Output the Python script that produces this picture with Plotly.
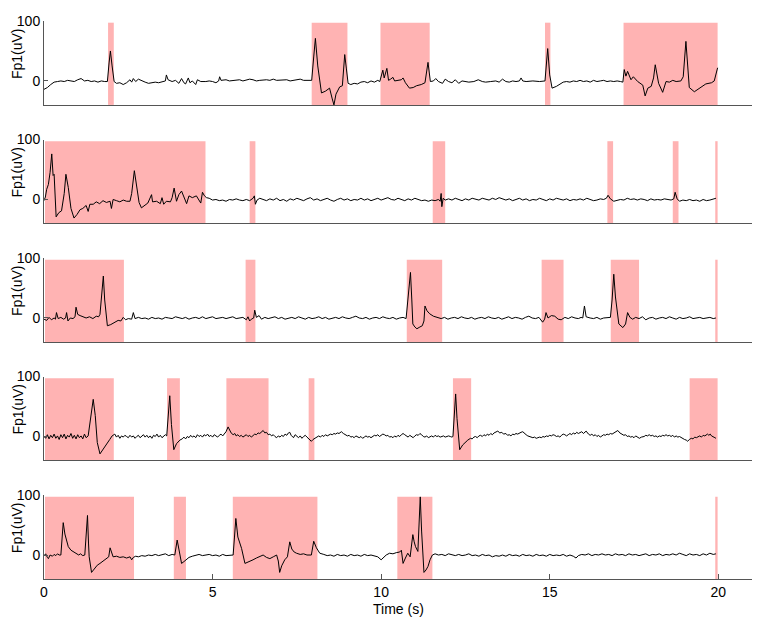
import plotly.graph_objects as go
from plotly.subplots import make_subplots

# ---------------- data ----------------
# EEG channel Fp1 (uV) over time (s), one trace per panel, as (t, value) pairs
TRACE_1 = [
    (0, -14), (0.1, -11), (0.2, -6), (0.3, -2), (0.4, -1), (0.5, 0), (0.6, -1), (0.7, 1),
    (0.8, 0), (0.9, -1), (1.0, 2), (1.1, 4), (1.2, 0), (1.3, 1), (1.4, -1), (1.5, 0),
    (1.6, -2), (1.7, 0), (1.8, -1), (1.88, -1), (1.93, 30), (1.97, 50), (2.02, 25),
    (2.08, -1), (2.15, -4), (2.25, -3), (2.35, -6), (2.45, -3), (2.55, 2), (2.6, -2),
    (2.65, 4), (2.72, -1), (2.8, 3), (2.9, 0), (3.0, -2), (3.1, -4), (3.2, -3), (3.3, -2),
    (3.4, -3), (3.5, -1), (3.6, 0), (3.63, 10), (3.68, 2), (3.8, -1), (3.9, 1), (4.0, -4),
    (4.08, 4), (4.15, -3), (4.2, -5), (4.28, 5), (4.33, -3), (4.4, 0), (4.5, -6), (4.55, 2),
    (4.65, -1), (4.8, -1), (4.9, 0), (5.0, -1), (5.1, -3), (5.18, 0), (5.21, 7), (5.25, 1),
    (5.4, 2), (5.5, 0), (5.6, 1), (5.7, 2), (5.8, 2), (5.9, 0), (6.0, 1), (6.1, 3), (6.2, 2),
    (6.3, 0), (6.4, 1), (6.5, 2), (6.6, 2), (6.7, 1), (6.8, 3), (6.9, 1), (7.0, 1), (7.1, 2),
    (7.2, 2), (7.3, 0), (7.4, 1), (7.5, 2), (7.6, 3), (7.7, 1), (7.8, 1), (7.94, 1),
    (8.0, 40), (8.05, 71), (8.12, 25), (8.23, -20), (8.35, -17), (8.47, -12), (8.55, -30),
    (8.6, -40), (8.66, -22), (8.77, -10), (8.85, -8), (8.92, 44), (8.97, 20), (9.02, -4),
    (9.1, -6), (9.2, -4), (9.3, -5), (9.4, -2), (9.5, -1), (9.6, -3), (9.7, 0), (9.8, -2),
    (9.9, 1), (9.96, -1), (10.05, 18), (10.09, 5), (10.17, 21), (10.22, 1), (10.28, 3),
    (10.35, 6), (10.4, 0), (10.5, 1), (10.6, 2), (10.65, 5), (10.72, -3), (10.84, -12),
    (10.95, -11), (11.05, -8), (11.19, -6), (11.3, -3), (11.39, 31), (11.46, -1),
    (11.55, 0), (11.62, 4), (11.7, -1), (11.82, -4), (11.9, 3), (12.0, -1), (12.1, -3),
    (12.2, 2), (12.3, -4), (12.4, 0), (12.5, -1), (12.6, -2), (12.75, -1), (12.88, 2),
    (13.0, -1), (13.1, -2), (13.25, -1), (13.4, 0), (13.5, -2), (13.6, 3), (13.7, -1),
    (13.8, -2), (13.9, 0), (14.0, -1), (14.1, 0), (14.15, 5), (14.2, 0), (14.3, -1),
    (14.5, 0), (14.7, -1), (14.86, 0), (14.9, 30), (14.94, 54), (15.0, 10), (15.07, -12),
    (15.2, -9), (15.34, -4), (15.4, -2), (15.5, -1), (15.6, -2), (15.7, 0), (15.8, -1),
    (15.9, 1), (16.0, -1), (16.1, 0), (16.2, -2), (16.3, 1), (16.4, -1), (16.5, 0),
    (16.6, 1), (16.7, -1), (16.8, 0), (16.9, -1), (17.0, 0), (17.1, -1), (17.17, -2),
    (17.21, 19), (17.26, 8), (17.31, 16), (17.41, 2), (17.48, 7), (17.61, -1), (17.76, -7),
    (17.83, -25), (17.91, -12), (18.01, -9), (18.08, 5), (18.13, 27), (18.23, -4),
    (18.35, -19), (18.45, -1), (18.55, -2), (18.65, 1), (18.75, -1), (18.89, 0), (18.96, 7),
    (19.04, 66), (19.09, 20), (19.14, -11), (19.29, -18), (19.45, -12), (19.63, -5),
    (19.8, -3), (19.88, 0), (19.98, 22),
]

TRACE_2 = [
    (0, -2), (0.04, 4), (0.08, 17), (0.13, 25), (0.18, 45), (0.23, 76), (0.27, 40), (0.3, 42),
    (0.36, -29), (0.44, -22), (0.52, -19), (0.6, 10), (0.65, 42), (0.72, 20), (0.8, -15),
    (0.89, -31), (0.98, -25), (1.07, -17), (1.15, -15), (1.25, -10), (1.31, -20), (1.36, -8),
    (1.46, -8), (1.55, -4), (1.65, -7), (1.75, -2), (1.85, -5), (1.96, -3), (2.0, -15),
    (2.05, 0), (2.15, -2), (2.25, -4), (2.35, -1), (2.45, -3), (2.55, -3), (2.6, 10),
    (2.68, 48), (2.75, 25), (2.82, -5), (2.89, -14), (2.98, -10), (3.08, -6), (3.19, 8),
    (3.22, -4), (3.34, -3), (3.45, -7), (3.5, 3), (3.55, -8), (3.63, -3), (3.75, -4),
    (3.8, 3), (3.86, 19), (3.93, -3), (4.0, 8), (4.08, 14), (4.15, 4), (4.23, -7), (4.3, 6),
    (4.4, 3), (4.52, 6), (4.6, -3), (4.65, -6), (4.7, 12), (4.76, 6), (4.82, 3), (4.9, 2),
    (5.0, -1), (5.1, 0), (5.2, -2), (5.3, -1), (5.4, -3), (5.5, 0), (5.6, -1), (5.7, 1),
    (5.8, -1), (5.9, -2), (6.0, 0), (6.1, -2), (6.2, 2), (6.24, 6), (6.27, -8), (6.32, -1),
    (6.4, 2), (6.5, 0), (6.6, -2), (6.7, 1), (6.8, -1), (6.9, 2), (7.0, -2), (7.1, 0),
    (7.2, -3), (7.3, 1), (7.4, -1), (7.5, 2), (7.6, 0), (7.7, -2), (7.8, 1), (7.9, 3),
    (8.0, -1), (8.1, 1), (8.2, -2), (8.3, 0), (8.4, 2), (8.5, -1), (8.6, -3), (8.7, 0),
    (8.8, 2), (8.9, -1), (9.0, 1), (9.1, -2), (9.2, 0), (9.3, -1), (9.4, 2), (9.5, -1),
    (9.6, 1), (9.7, -2), (9.8, 0), (9.9, 2), (10.0, -1), (10.1, 1), (10.2, 3), (10.3, 0),
    (10.4, -1), (10.5, 2), (10.6, 0), (10.7, -2), (10.8, 1), (10.9, -1), (11.0, 2),
    (11.1, 0), (11.2, -2), (11.3, -1), (11.4, -3), (11.5, -1), (11.6, -2), (11.7, 0),
    (11.75, -3), (11.78, 10), (11.8, -12), (11.84, 2), (11.9, -1), (12.0, 1), (12.1, -1),
    (12.2, 2), (12.3, 0), (12.4, -2), (12.5, 1), (12.6, -1), (12.7, 2), (12.8, 0),
    (12.9, -1), (13.0, 2), (13.1, 1), (13.2, -1), (13.3, 2), (13.4, 0), (13.5, 3), (13.6, 1),
    (13.7, -1), (13.8, 1), (13.9, -2), (14.0, 0), (14.1, 2), (14.2, -1), (14.3, 1),
    (14.4, -2), (14.5, 0), (14.6, -1), (14.7, 2), (14.8, 0), (14.9, -2), (15.0, 1),
    (15.1, -1), (15.2, 2), (15.3, 0), (15.4, -1), (15.5, 1), (15.6, -2), (15.7, 0),
    (15.8, -1), (15.9, 1), (16.0, -1), (16.1, 2), (16.2, 0), (16.3, -2), (16.4, -1),
    (16.5, 1), (16.6, 0), (16.68, 2), (16.73, 7), (16.8, 1), (16.9, -3), (17.0, -2),
    (17.1, 0), (17.2, -1), (17.3, 2), (17.4, 0), (17.5, 1), (17.6, -1), (17.7, 1), (17.8, 0),
    (17.9, -2), (18.0, 1), (18.1, -1), (18.2, 0), (18.3, -1), (18.4, 1), (18.5, 0),
    (18.6, -1), (18.68, 1), (18.72, 12), (18.78, 1), (18.85, -3), (18.95, -1), (19.05, -2),
    (19.15, 0), (19.25, -2), (19.35, -1), (19.45, -3), (19.55, 0), (19.65, -2), (19.75, -1),
    (19.85, 0), (19.93, 2),
]

TRACE_3 = [
    (0, -2), (0.08, -4), (0.15, 1), (0.22, -3), (0.3, 0), (0.34, -2), (0.37, 9), (0.42, -1),
    (0.5, 1), (0.58, -2), (0.64, 0), (0.67, 9), (0.71, -5), (0.78, 0), (0.86, -1), (0.92, 2),
    (0.95, 18), (1.0, 6), (1.07, 4), (1.15, 2), (1.25, 0), (1.35, 2), (1.45, -1), (1.55, 3),
    (1.62, 2), (1.66, 6), (1.7, 30), (1.76, 70), (1.8, 30), (1.88, -13), (1.98, -11),
    (2.1, -7), (2.2, -4), (2.28, -5), (2.35, 1), (2.42, -3), (2.5, -1), (2.6, -2), (2.65, 9),
    (2.7, -1), (2.8, 1), (2.9, -1), (3.0, 0), (3.1, -2), (3.2, 1), (3.3, -1), (3.4, 0),
    (3.5, -2), (3.6, 1), (3.7, 0), (3.8, -1), (3.9, 2), (4.0, 0), (4.1, -1), (4.2, 1),
    (4.3, -2), (4.4, 0), (4.5, 1), (4.6, -1), (4.7, 2), (4.8, -1), (4.9, 0), (5.0, 2),
    (5.1, -1), (5.2, 0), (5.3, 1), (5.4, -1), (5.5, 0), (5.6, 2), (5.7, -1), (5.8, 0),
    (5.9, 1), (6.0, -3), (6.05, 2), (6.1, -5), (6.15, -2), (6.22, 0), (6.25, 13), (6.3, 1),
    (6.38, 4), (6.45, -2), (6.55, 1), (6.65, -1), (6.75, 0), (6.85, 2), (6.95, -1),
    (7.05, 1), (7.15, -2), (7.25, 0), (7.35, 1), (7.45, -1), (7.55, 2), (7.65, 0),
    (7.75, -2), (7.85, 1), (7.95, -1), (8.05, 0), (8.15, 2), (8.25, -1), (8.35, 1),
    (8.45, -2), (8.55, 0), (8.65, 1), (8.75, -1), (8.85, 2), (8.95, 0), (9.05, -1),
    (9.15, 1), (9.25, 3), (9.35, 0), (9.45, -1), (9.55, 1), (9.65, -2), (9.75, 0),
    (9.85, 1), (9.95, -1), (10.05, 2), (10.15, 0), (10.25, -1), (10.35, 1), (10.45, -2),
    (10.55, 0), (10.65, 1), (10.74, -1), (10.8, 30), (10.87, 76), (10.91, 30), (10.94, -10),
    (11.0, -15), (11.06, -18), (11.15, -15), (11.22, -13), (11.27, -5), (11.3, 20),
    (11.36, 12), (11.44, 7), (11.55, 3), (11.68, 1), (11.78, -1), (11.88, 1), (11.98, -2),
    (12.08, 0), (12.18, 1), (12.28, -1), (12.38, 2), (12.48, 0), (12.58, -1), (12.68, 1),
    (12.78, -2), (12.88, 0), (12.98, 1), (13.08, -1), (13.18, 2), (13.28, 0), (13.38, -1),
    (13.48, 1), (13.58, -2), (13.68, 0), (13.78, 2), (13.88, -1), (13.98, 1), (14.08, 0),
    (14.18, -2), (14.28, 1), (14.38, 3), (14.48, 0), (14.58, -1), (14.68, 1), (14.79, -7),
    (14.85, -2), (14.89, 9), (14.95, 0), (15.05, 4), (15.15, 3), (15.25, -2), (15.34, -3),
    (15.45, 1), (15.55, -1), (15.65, 2), (15.75, 0), (15.85, -1), (15.93, 1), (15.98, 0),
    (16.03, 20), (16.08, 2), (16.2, 0), (16.3, -1), (16.4, 1), (16.5, -2), (16.6, 0),
    (16.7, 1), (16.8, 1), (16.85, 30), (16.9, 73), (16.95, 35), (17.05, -10), (17.17, -16),
    (17.25, -10), (17.31, 9), (17.38, 1), (17.46, -2), (17.55, 1), (17.65, -1), (17.75, 2),
    (17.85, -3), (17.95, 0), (18.05, 1), (18.15, -2), (18.25, 0), (18.35, 1), (18.45, -1),
    (18.55, 2), (18.65, 0), (18.75, -2), (18.85, 1), (18.95, -1), (19.05, 0), (19.15, 2),
    (19.25, -1), (19.35, 0), (19.45, 1), (19.55, -1), (19.65, 0), (19.75, 1), (19.85, -1),
    (19.93, 0),
]

TRACE_4 = [
    (0, 0), (0.05, -3), (0.1, 3), (0.15, -4), (0.2, 2), (0.25, -2), (0.3, 4), (0.35, -3),
    (0.4, 1), (0.45, -5), (0.5, 3), (0.55, -2), (0.6, 4), (0.65, -4), (0.7, 2), (0.75, -1),
    (0.8, 5), (0.85, -3), (0.9, 2), (0.95, -4), (1.0, 3), (1.05, -2), (1.1, 1), (1.15, -4),
    (1.2, 4), (1.25, -2), (1.31, 1), (1.37, 25), (1.46, 62), (1.52, 35), (1.58, -10),
    (1.66, -29), (1.75, -22), (1.86, -14), (1.95, -5), (2.02, 1), (2.1, 4), (2.15, -1),
    (2.2, 2), (2.25, -3), (2.3, 1), (2.35, -1), (2.4, 2), (2.45, 0), (2.5, -2), (2.55, 2),
    (2.6, -1), (2.65, 1), (2.7, -3), (2.75, 0), (2.8, 2), (2.85, -2), (2.9, 1), (2.95, 3),
    (3.0, -1), (3.05, 2), (3.1, -2), (3.15, 1), (3.2, -3), (3.25, 2), (3.3, 0), (3.35, 4),
    (3.4, -1), (3.45, 2), (3.5, -2), (3.55, 1), (3.6, 3), (3.64, 1), (3.68, 30), (3.73, 68),
    (3.78, 20), (3.85, -22), (3.93, -12), (4.03, -6), (4.1, -4), (4.15, -1), (4.2, -4),
    (4.25, 0), (4.3, -2), (4.35, 2), (4.4, -1), (4.45, 1), (4.5, -2), (4.55, 3), (4.6, 0),
    (4.65, 2), (4.7, -1), (4.75, 3), (4.8, 1), (4.85, 4), (4.9, 0), (4.95, 2), (5.0, -1),
    (5.05, 3), (5.1, 1), (5.15, -1), (5.2, 2), (5.25, 4), (5.3, 1), (5.35, 5), (5.4, 8),
    (5.46, 16), (5.5, 10), (5.55, 6), (5.61, 3), (5.66, 5), (5.7, 1), (5.75, 3), (5.8, 0),
    (5.85, 2), (5.9, -1), (5.95, 1), (6.0, 3), (6.05, 0), (6.1, 2), (6.15, -1), (6.2, 1),
    (6.25, 4), (6.3, 3), (6.35, 6), (6.4, 5), (6.45, 8), (6.5, 10), (6.55, 6), (6.6, 7),
    (6.65, 3), (6.7, 4), (6.75, 1), (6.8, 3), (6.85, 0), (6.9, -2), (6.95, 1), (7.0, -1),
    (7.05, 2), (7.1, 0), (7.15, 4), (7.2, 2), (7.25, 6), (7.29, 7), (7.33, 2), (7.4, -2),
    (7.45, 3), (7.5, 0), (7.55, -2), (7.6, 1), (7.65, -3), (7.7, 0), (7.75, 2), (7.8, -1),
    (7.85, -4), (7.9, -6), (7.93, -8), (7.98, -5), (8.03, -3), (8.08, -1), (8.15, 1),
    (8.2, -1), (8.25, 2), (8.3, 0), (8.35, 3), (8.4, 1), (8.45, 2), (8.5, 4), (8.55, 3),
    (8.6, 5), (8.65, 4), (8.7, 6), (8.75, 5), (8.82, 8), (8.88, 5), (8.95, 3), (9.0, 1),
    (9.05, 2), (9.1, -1), (9.15, 0), (9.2, -2), (9.25, 1), (9.3, -1), (9.35, -2), (9.4, 0),
    (9.45, -3), (9.5, -1), (9.55, 1), (9.6, -1), (9.65, 0), (9.7, -2), (9.75, 0), (9.8, 2),
    (9.85, 1), (9.9, 3), (9.95, 0), (10.0, 2), (10.05, 4), (10.1, 3), (10.15, 1), (10.2, 2),
    (10.25, -1), (10.3, 0), (10.35, -2), (10.4, 1), (10.45, -1), (10.5, 2), (10.55, 0),
    (10.6, 3), (10.65, 5), (10.7, 3), (10.75, 1), (10.8, -1), (10.85, 2), (10.9, 0),
    (10.95, -2), (11.0, 1), (11.05, 3), (11.1, 2), (11.15, 5), (11.2, 3), (11.25, 0),
    (11.3, -1), (11.35, 1), (11.4, -2), (11.45, 0), (11.5, 1), (11.55, -1), (11.6, 2),
    (11.65, 0), (11.7, 1), (11.75, -1), (11.8, 0), (11.85, 1), (11.9, -1), (11.95, 0),
    (12.0, 1), (12.05, 0), (12.1, -1), (12.13, 0), (12.17, 35), (12.21, 71), (12.25, 30),
    (12.33, -22), (12.42, -14), (12.5, -9), (12.57, -6), (12.65, -3), (12.7, -4),
    (12.75, -1), (12.8, 0), (12.85, -2), (12.9, 1), (12.95, 2), (13.0, 0), (13.05, 3),
    (13.1, 1), (13.15, 4), (13.2, 2), (13.25, 5), (13.3, 3), (13.35, 6), (13.4, 7),
    (13.46, 9), (13.52, 6), (13.58, 7), (13.63, 4), (13.7, 5), (13.75, 2), (13.8, 3),
    (13.85, 1), (13.9, 4), (13.95, 3), (14.0, 5), (14.05, 4), (14.1, 6), (14.15, 7),
    (14.2, 8), (14.25, 5), (14.3, 3), (14.35, 1), (14.4, 0), (14.45, -1), (14.5, -2),
    (14.55, -1), (14.6, -3), (14.65, -2), (14.7, -1), (14.75, -2), (14.8, 0), (14.85, -1),
    (14.9, 1), (14.95, 0), (15.0, 2), (15.05, 1), (15.1, 3), (15.15, 2), (15.2, 0),
    (15.25, 1), (15.3, -1), (15.35, 2), (15.4, 4), (15.45, 3), (15.5, 1), (15.55, 3),
    (15.6, 5), (15.65, 3), (15.7, 6), (15.75, 4), (15.8, 7), (15.85, 5), (15.9, 6),
    (15.95, 8), (16.0, 5), (16.08, 9), (16.15, 4), (16.2, 2), (16.25, 4), (16.3, 1),
    (16.35, 3), (16.4, 0), (16.45, 2), (16.5, -1), (16.55, 1), (16.6, 3), (16.65, 2),
    (16.7, 4), (16.75, 3), (16.8, 5), (16.85, 4), (16.9, 6), (16.95, 7), (17.02, 10),
    (17.08, 6), (17.15, 4), (17.2, 2), (17.25, 3), (17.3, 0), (17.35, 1), (17.4, -1),
    (17.45, 0), (17.5, -2), (17.55, 1), (17.6, -1), (17.66, -3), (17.72, -1), (17.8, 0),
    (17.85, 2), (17.9, 1), (17.95, 3), (18.0, 1), (18.05, 2), (18.1, 0), (18.15, 1),
    (18.2, -1), (18.25, 1), (18.3, 0), (18.35, 2), (18.4, 1), (18.45, 3), (18.5, 1),
    (18.55, 2), (18.6, 0), (18.65, 2), (18.7, -1), (18.75, 1), (18.8, -1), (18.85, 0),
    (18.9, -2), (18.95, -3), (19.0, -5), (19.05, -6), (19.09, -8), (19.14, -5), (19.2, -3),
    (19.25, -4), (19.3, -1), (19.35, -2), (19.4, 0), (19.45, 1), (19.5, -1), (19.55, 2),
    (19.6, 1), (19.65, 3), (19.68, 4), (19.72, 2), (19.76, 4), (19.8, 1), (19.85, 0),
    (19.9, -2), (19.93, -3),
]

TRACE_5 = [
    (0, -1), (0.05, 2), (0.1, -4), (0.13, -6), (0.18, 0), (0.25, -2), (0.3, 1), (0.35, -1),
    (0.4, 2), (0.45, 0), (0.5, 0), (0.54, 30), (0.57, 54), (0.62, 35), (0.67, 22),
    (0.72, 14), (0.8, 8), (0.88, 5), (0.97, 3), (1.03, 0), (1.08, 2), (1.15, -1), (1.21, 0),
    (1.25, 30), (1.29, 66), (1.32, 20), (1.34, -3), (1.41, -29), (1.5, -22), (1.58, -17),
    (1.66, -14), (1.76, -10), (1.86, -6), (1.92, -3), (1.96, 12), (2.0, 4), (2.05, -3),
    (2.15, -2), (2.25, -4), (2.35, -3), (2.45, -5), (2.55, -3), (2.6, -8), (2.65, -4),
    (2.72, -2), (2.8, -3), (2.9, -1), (3.0, -2), (3.1, 0), (3.2, -1), (3.3, 1), (3.4, -1),
    (3.5, 0), (3.6, 2), (3.7, -1), (3.8, 1), (3.88, 0), (3.92, 15), (3.95, 25), (4.0, 10),
    (4.08, -14), (4.15, -11), (4.23, -8), (4.3, -4), (4.4, -2), (4.5, -1), (4.6, 1),
    (4.7, -1), (4.8, 0), (4.9, 1), (5.0, -1), (5.1, 0), (5.2, -2), (5.3, 1), (5.4, -1),
    (5.5, 0), (5.61, 0), (5.65, 30), (5.69, 61), (5.75, 30), (5.86, 11), (5.96, -14),
    (6.05, -12), (6.2, -8), (6.3, -5), (6.4, -3), (6.5, 0), (6.6, -4), (6.7, -6), (6.8, -3),
    (6.9, 0), (6.95, -10), (6.99, -29), (7.05, -18), (7.14, -8), (7.22, -3), (7.29, 22),
    (7.35, 10), (7.42, 5), (7.49, 3), (7.6, 1), (7.7, 2), (7.8, 0), (7.93, 0), (7.97, 12),
    (8.0, 23), (8.08, 12), (8.18, 3), (8.3, 1), (8.4, -1), (8.5, 0), (8.6, -2), (8.7, 1),
    (8.8, -1), (8.9, 0), (9.0, -2), (9.1, 1), (9.2, -1), (9.3, 0), (9.4, -2), (9.5, 1),
    (9.6, -1), (9.7, 0), (9.8, -2), (9.9, -3), (10.0, -8), (10.08, -3), (10.15, 0),
    (10.25, 3), (10.35, 2), (10.45, 4), (10.55, 5), (10.6, 8), (10.65, -14), (10.72, -5),
    (10.79, 3), (10.86, -3), (10.9, 15), (10.94, 34), (10.98, 22), (11.02, 14), (11.09, 6),
    (11.12, 50), (11.16, 97), (11.2, 40), (11.27, -29), (11.33, -25), (11.39, -19),
    (11.45, -8), (11.52, 0), (11.6, 2), (11.7, 0), (11.8, 1), (11.9, -1), (12.0, 2),
    (12.1, 0), (12.2, -1), (12.3, 1), (12.4, -1), (12.5, 0), (12.6, 2), (12.7, -1),
    (12.8, 0), (12.9, -2), (13.0, 1), (13.1, -1), (13.2, 0), (13.3, -3), (13.4, -1),
    (13.5, -2), (13.6, 0), (13.7, -2), (13.8, 1), (13.9, -1), (14.0, 0), (14.1, -2),
    (14.2, 1), (14.3, -1), (14.4, 0), (14.5, -2), (14.6, 1), (14.7, -1), (14.8, 0),
    (14.9, -2), (15.0, 1), (15.1, -1), (15.2, 0), (15.3, -1), (15.4, 1), (15.5, -2),
    (15.6, 0), (15.7, -2), (15.78, -5), (15.85, -1), (15.95, 1), (16.05, 0), (16.15, 2),
    (16.25, -1), (16.35, 1), (16.45, 0), (16.55, 2), (16.65, 0), (16.75, 1), (16.85, -1),
    (16.95, 2), (17.05, 0), (17.15, 1), (17.25, -1), (17.35, 2), (17.45, 0), (17.55, 1),
    (17.65, -1), (17.75, 0), (17.85, 2), (17.95, -1), (18.05, 1), (18.15, 0), (18.25, 2),
    (18.35, -1), (18.45, 1), (18.55, 0), (18.65, 2), (18.75, 0), (18.85, 3), (18.95, 1),
    (19.05, -1), (19.15, 2), (19.25, 0), (19.35, 1), (19.45, -1), (19.55, 2), (19.65, 0),
    (19.75, 3), (19.85, 1), (19.93, 2),
]

# artifact windows (start, end) in seconds, one list per panel
SHADE_1 = [(1.9, 2.07), (7.94, 9.0), (9.98, 11.44), (14.86, 15.02), (17.19, 19.98)]
SHADE_2 = [(0.03, 4.79), (6.1, 6.27), (11.53, 11.9), (16.71, 16.88), (18.65, 18.82), (19.91, 19.98)]
SHADE_3 = [(0.03, 2.37), (5.98, 6.27), (10.76, 11.81), (14.76, 15.41), (16.81, 17.65), (19.91, 19.98)]
SHADE_4 = [(0.03, 2.07), (3.65, 4.03), (5.41, 6.66), (7.85, 8.02), (12.13, 12.67), (19.15, 19.98)]
SHADE_5 = [(0.03, 2.67), (3.85, 4.21), (5.6, 8.11), (10.48, 11.52), (19.91, 19.98)]

TRACES = [TRACE_1, TRACE_2, TRACE_3, TRACE_4, TRACE_5]
SHADES = [SHADE_1, SHADE_2, SHADE_3, SHADE_4, SHADE_5]

X_TICKS = [0, 5, 10, 15, 20]
Y_TICKS = [0, 100]
Y_LABEL = "Fp1(uV)"
X_LABEL = "Time (s)"

FONT = "Liberation Sans, Arial, sans-serif"
AXIS_COLOR = "#555555"
SHADE_COLOR = "#ffb3b3"

# ---------------- figure ----------------
# the page body adds an 8 px margin, so the figure is sized to fit inside it
fig = make_subplots(rows=5, cols=1, vertical_spacing=0.062)

for i, (trace, shades) in enumerate(zip(TRACES, SHADES), start=1):
    n = "" if i == 1 else str(i)
    t = [p[0] for p in trace]
    v = [p[1] for p in trace]
    fig.add_trace(go.Scatter(x=t, y=v, mode="lines",
                             line=dict(color="black", width=1),
                             showlegend=False, hoverinfo="skip"),
                  row=i, col=1)
    for a, b in shades:
        fig.add_shape(type="rect", xref=f"x{n}", yref=f"y{n} domain",
                      x0=a, x1=b, y0=0, y1=0.98, fillcolor=SHADE_COLOR,
                      line=dict(width=0), layer="below")
    fig.add_annotation(text=Y_LABEL, xref="paper", yref=f"y{n}", x=-0.038, y=45,
                       textangle=-90, showarrow=False, xanchor="center",
                       yanchor="middle", font=dict(size=14, color="black", family=FONT))

    last = i == 5
    fig.update_xaxes(row=i, col=1, range=[0, 21], showline=True, linecolor=AXIS_COLOR,
                     linewidth=1, showgrid=False, zeroline=False, automargin=False,
                     tickvals=X_TICKS, ticks="inside" if last else "",
                     ticklen=5, tickcolor=AXIS_COLOR, showticklabels=last,
                     tickfont=dict(size=14, color="black", family=FONT))
    fig.update_yaxes(row=i, col=1, range=[-40, 100], showline=True, linecolor=AXIS_COLOR,
                     linewidth=1, showgrid=False, zeroline=False, automargin=False,
                     tickvals=Y_TICKS, ticks="inside", ticklen=4, tickcolor=AXIS_COLOR,
                     tickfont=dict(size=14, color="black", family=FONT))

fig.add_annotation(text=X_LABEL, xref="paper", yref="paper", x=0.5, y=-0.054,
                   showarrow=False, xanchor="center", yanchor="middle",
                   font=dict(size=14, color="black", family=FONT))

fig.update_layout(width=754, height=616, plot_bgcolor="white", paper_bgcolor="white",
                  margin=dict(l=36, r=10, t=13, b=45, autoexpand=False),
                  font=dict(family=FONT, color="black"))

fig.write_html("out.html")
